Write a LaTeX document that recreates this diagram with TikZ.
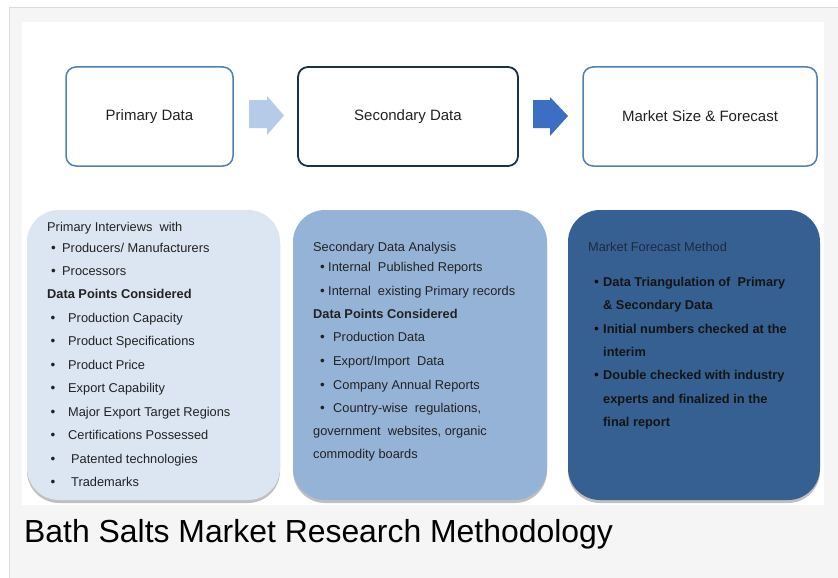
\documentclass[tikz,border=0pt]{standalone}
\usepackage{fontspec}
\setmainfont{Liberation Sans}
\usetikzlibrary{shadows}
\definecolor{framebg}{HTML}{F5F5F5}
\definecolor{framegray}{HTML}{DCDCDC}
\definecolor{midblue}{HTML}{4F7FB5}
\definecolor{navyline}{HTML}{1E3048}
\definecolor{arrowlight}{HTML}{B5CBE8}
\definecolor{arrowdark}{HTML}{3A6FC4}
\definecolor{fillone}{HTML}{DCE6F2}
\definecolor{filltwo}{HTML}{95B3D7}
\definecolor{fillthree}{HTML}{376092}
\definecolor{txtgray}{HTML}{222222}
\definecolor{txtnavy}{HTML}{1C2A3C}
\begin{document}
\begin{tikzpicture}[x=1pt,y=-1pt,
  topbox/.style={draw=midblue, line width=1.5pt, rounded corners=10pt, fill=white,
     minimum width=167pt, minimum height=99pt, inner sep=0pt,
     font=\fontsize{15}{18}\selectfont, text=txtgray},
  bigbox/.style={rounded corners=32pt, minimum height=290pt, inner sep=0pt,
     drop shadow={shadow xshift=0pt, shadow yshift=-3pt, opacity=.35, fill=black!70}},
  txt/.style={anchor=base west, inner sep=0pt, font=\fontsize{12.8}{15}\selectfont, text=txtgray},
  bld/.style={txt, font=\fontsize{12.8}{15}\selectfont\bfseries},
  bul/.style={anchor=base, inner sep=0pt, font=\fontsize{13.5}{15}\selectfont, text=txtgray},
]
\useasboundingbox (0,0) rectangle (838,578);
\fill[white] (0,0) rectangle (838,578);
\draw[framegray, fill=framebg, line width=1pt] (9,8) rectangle (850,590);
\fill[white] (22,22) rectangle (824,505);

% top row
\node[topbox] (pd) at (149.5,116.5) {Primary Data};
\node[topbox, draw=navyline, line width=1.8pt, minimum width=220pt] (sd) at (408,116.5) {Secondary Data};
\node[topbox, minimum width=234pt] (ms) at (700,116.5) {Market Size \& Forecast};

\fill[arrowlight] (249,100) -- (267,100) -- (267,96) -- (284,115.5) -- (267,135) -- (267,128) -- (249,128) -- cycle;
\fill[arrowdark] (533,100) -- (550,100) -- (550,97) -- (568,116) -- (550,136) -- (550,128) -- (533,128) -- cycle;

% bottom boxes
\node[bigbox, fill=fillone, minimum width=253pt] (b1) at (153.5,355) {};
\node[bigbox, fill=filltwo, minimum width=254pt] (b2) at (420,355) {};
\node[bigbox, fill=fillthree, minimum width=252pt] (b3) at (694,355) {};

% box 1 text
\node[txt] (a0) at (47,231) {Primary Interviews\ \ with};
\node[bul] (a1b) at (53.5,252) {•};
\node[txt] (a1) at (62,252) {Producers/ Manufacturers};
\node[bul] (a2b) at (53.5,275.5) {•};
\node[txt] (a2) at (62,275.5) {Processors};
\node[bld] (a3) at (47,298.5) {Data Points Considered};
\node[bul] (a4b) at (53,322) {•};
\node[txt] (a4) at (68,322) {Production Capacity};
\node[bul] (a5b) at (53,345.5) {•};
\node[txt] (a5) at (68,345.5) {Product Specifications};
\node[bul] (a6b) at (53,369) {•};
\node[txt] (a6) at (68,369) {Product Price};
\node[bul] (a7b) at (53,392) {•};
\node[txt] (a7) at (68,392) {Export Capability};
\node[bul] (a8b) at (53,416) {•};
\node[txt] (a8) at (68,416) {Major Export Target Regions};
\node[bul] (a9b) at (53,439.5) {•};
\node[txt] (a9) at (68,439.5) {Certifications Possessed};
\node[bul] (a10b) at (53,463) {•};
\node[txt] (a10) at (71,463) {Patented technologies};
\node[bul] (a11b) at (53,486) {•};
\node[txt] (a11) at (71,486) {Trademarks};

% box 2 text
\node[txt] (c0) at (313,251) {Secondary Data Analysis};
\node[bul] (c1b) at (322.5,271) {•};
\node[txt] (c1) at (328,271) {Internal\ \ Published Reports};
\node[bul] (c2b) at (322.5,295) {•};
\node[txt] (c2) at (328,295) {Internal\ \ existing Primary records};
\node[bld] (c3) at (313,318) {Data Points Considered};
\node[bul] (c4b) at (322.5,341) {•};
\node[txt] (c4) at (333,341) {Production Data};
\node[bul] (c5b) at (322.5,365) {•};
\node[txt] (c5) at (333,365) {Export/Import\ \ Data};
\node[bul] (c6b) at (322.5,389) {•};
\node[txt] (c6) at (333,389) {Company Annual Reports};
\node[bul] (c7b) at (322.5,412) {•};
\node[txt] (c7) at (333,412) {Country-wise\ \ regulations,};
\node[txt] (c8) at (313,435) {government\ \ websites, organic};
\node[txt] (c9) at (313,458.5) {commodity boards};

% box 3 text
\node[txt, text=txtnavy] (d0) at (588,251) {Market Forecast Method};
\node[bul, text=black] (d1b) at (596.5,286) {•};
\node[bld, text=black!92] (d1) at (603,286) {Data Triangulation of\ \ Primary};
\node[bld, text=black!92] (d2) at (603,309.5) {\& Secondary Data};
\node[bul, text=black] (d3b) at (596.5,333) {•};
\node[bld, text=black!92] (d3) at (603,333) {Initial numbers checked at the};
\node[bld, text=black!92] (d4) at (603,356) {interim};
\node[bul, text=black] (d5b) at (596.5,379.5) {•};
\node[bld, text=black!92] (d5) at (603,379.5) {Double checked with industry};
\node[bld, text=black!92] (d6) at (603,403) {experts and finalized in the};
\node[bld, text=black!92] (d7) at (603,426) {final report};

% caption
\node[anchor=base west, inner sep=0pt, font=\fontsize{31.9}{38}\selectfont, text=black] (cap) at (24,542) {Bath Salts Market Research Methodology};
\end{tikzpicture}
\end{document}
